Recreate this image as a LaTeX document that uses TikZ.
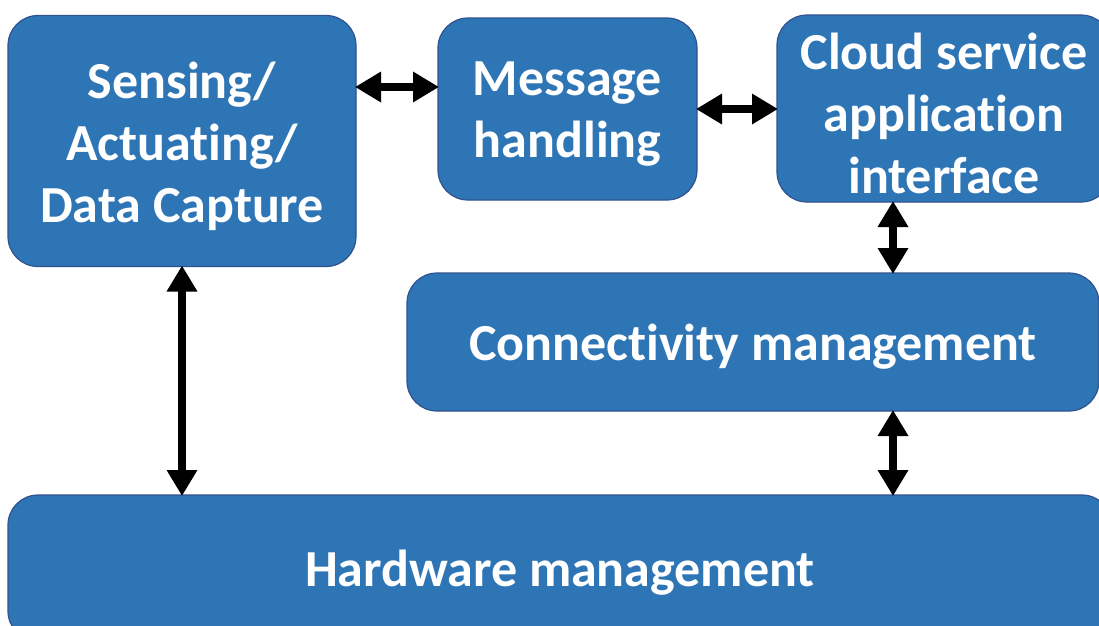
\documentclass[tikz,border=0pt]{standalone}
\usepackage{fontspec}
\setmainfont[Ligatures=NoCommon]{Carlito}
\usetikzlibrary{arrows.meta,calc}
\definecolor{boxblue}{HTML}{2E75B6}
\definecolor{boxedge}{HTML}{2F528F}

\begin{document}
\begin{tikzpicture}[
    x=1pt,y=-1pt,
    blk/.style={draw=boxedge,fill=boxblue,line width=1.2pt,rounded corners=30pt,
      inner sep=0pt,outer sep=0pt},
    txt/.style={text=white,font=\bfseries\fontsize{52}{62}\selectfont,align=center,
      inner sep=0pt,yshift=-5pt},
    biarrow/.style={black,line width=7.5pt,{Triangle[width=29pt,length=26pt]}-{Triangle[width=29pt,length=26pt]},shorten <=-1pt,shorten >=-1pt}
    ]
    \useasboundingbox (0, 0) rectangle (1099, 625);
    \clip (0, 0) rectangle (1099, 625);
    \node[blk,minimum width=348pt,minimum height=251pt,label={[txt]center:Sensing/\\Actuating/\\Data Capture}] (sense) at (182, 141) {};
    \node[blk,minimum width=259pt,minimum height=182pt,label={[txt]center:Message\\handling}] (msg) at (567.5, 109) {};
    \node[blk,minimum width=334pt,minimum height=187pt,label={[txt]center:Cloud service\\application\\interface}] (cloud) at (944, 108.5) {};
    \node[blk,minimum width=692pt,minimum height=138pt,label={[txt]center:Connectivity management}] (conn) at (753, 342) {};
    \node[blk,minimum width=1104pt,minimum height=146pt,label={[txt]center:Hardware management}] (hw) at (560, 568) {};
    \coordinate (p1) at ($(msg.west)+(0,-22)$);
    \coordinate (p2) at ($(cloud.south)+(-51,0)$);
    \coordinate (p3) at (p2 |- conn.south);
    \draw[biarrow] (p1 -| sense.east) -- (p1);
    \draw[biarrow] (msg.east) -- (msg.east -| cloud.west);
    \draw[biarrow] (p2) -- (p2 |- conn.north);
    \draw[biarrow] (p3) -- (p3 |- hw.north);
    \draw[biarrow] (sense.south) -- (sense.south |- hw.north);
\end{tikzpicture}
\end{document}
